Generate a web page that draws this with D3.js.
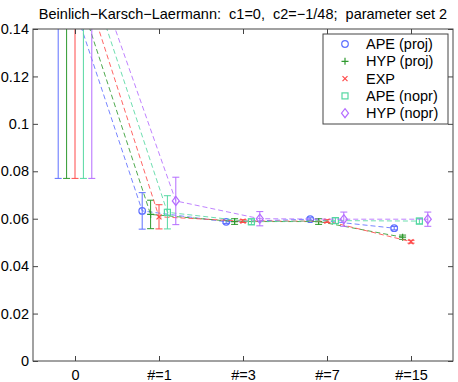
<!DOCTYPE html>
<html>
<head>
<meta charset="utf-8">
<script src="https://cdn.jsdelivr.net/npm/d3@7"></script>
<style>
  body { margin: 0; background: #fff; }
  text { font-family: "Liberation Sans", Arial, Helvetica, sans-serif; }
</style>
</head>
<body>
<div id="chart"></div>
<script>
const tickLabels = ['0', '#=1', '#=3', '#=7', '#=15']
const yTicks = [0, 0.02, 0.04, 0.06, 0.08, 0.1, 0.12, 0.14]

const seriesNames = ['APE (proj)', 'HYP (proj)', 'EXP', 'APE (nopr)', 'HYP (nopr)']
const seriesColors = ['#5f70ff', '#2f9a2f', '#ff4a4a', '#55d8a2', '#b46cff']
const seriesMarkers = ['circle', 'plus', 'cross', 'square', 'diamond']

const apeProj = [0.170, 0.0633, 0.0587, 0.0598, 0.0560]
const apeProjErr = [0.093, 0.0077, 0.0007, 0.0006, 0.0007]
const hypProj = [0.170, 0.0618, 0.0588, 0.0588, 0.0522]
const hypProjErr = [0.093, 0.0060, 0.0012, 0.0012, 0.0009]
const expVals = [0.171, 0.0608, 0.0590, 0.0590, 0.0503]
const expErr = [0.094, 0.0051, 0.0006, 0.0006, 0.0006]
const apeNopr = [0.170, 0.0627, 0.0587, 0.0592, 0.0590]
const apeNoprErr = [0.093, 0.0070, 0.0012, 0.0012, 0.0012]
const hypNopr = [0.168, 0.0675, 0.0600, 0.0598, 0.0598]
const hypNoprErr = [0.091, 0.0100, 0.0030, 0.0030, 0.0030]

const allValues = [apeProj, hypProj, expVals, apeNopr, hypNopr]
const allErrors = [apeProjErr, hypProjErr, expErr, apeNoprErr, hypNoprErr]
const offsets = [-0.2, -0.1, 0, 0.1, 0.2]

const width = 458
const height = 382
const margin = {top: 29, right: 5, bottom: 21, left: 33}
const chartWidth = width - margin.left - margin.right
const chartHeight = height - margin.top - margin.bottom
const fontSize = '14.5px'

const svg = d3.select('#chart')
    .append('svg')
    .attr('width', width)
    .attr('height', height)

const xScale = d3.scaleLinear().domain([-0.5, 4.5]).range([0, chartWidth])
const yScale = d3.scaleLinear().domain([0, 0.14]).range([chartHeight, 0])

const g = svg.append('g')
    .attr('transform', `translate(${margin.left},${margin.top})`)

g.append('clipPath')
    .attr('id', 'plotclip')
    .append('rect')
    .attr('width', chartWidth)
    .attr('height', chartHeight)

const plot = g.append('g').attr('clip-path', 'url(#plotclip)')

function drawMarker(sel, type, color) {
    if (type === 'circle') {
        sel.append('circle').attr('r', 3.3)
            .style('fill', 'none').style('stroke', color).style('stroke-width', 1.2)
    } else if (type === 'plus') {
        sel.append('path').attr('d', 'M-3.5,0H3.5M0,-3.5V3.5')
            .style('stroke', color).style('stroke-width', 1.2)
    } else if (type === 'cross') {
        sel.append('path').attr('d', 'M-2.5,-2.5L2.5,2.5M-2.5,2.5L2.5,-2.5')
            .style('stroke', color).style('stroke-width', 1.2)
    } else if (type === 'square') {
        sel.append('rect').attr('x', -3).attr('y', -3).attr('width', 6).attr('height', 6)
            .style('fill', 'none').style('stroke', color).style('stroke-width', 1.2)
    } else {
        sel.append('path').attr('d', 'M0,-4.5L3.5,0L0,4.5L-3.5,0Z')
            .style('fill', 'none').style('stroke', color).style('stroke-width', 1.2)
    }
}

// series: dashed connecting lines, error bars, markers
allValues.forEach((vals, s) => {
    const color = seriesColors[s]
    const data = vals.map((v, i) => ({x: i + offsets[s], y: v, e: allErrors[s][i]}))

    const line = d3.line()
        .x(d => xScale(d.x))
        .y(d => yScale(d.y))

    plot.append('path')
        .datum(data)
        .attr('d', line)
        .style('fill', 'none')
        .style('stroke', color)
        .style('stroke-width', 1)
        .style('stroke-dasharray', '5,3')
        .style('opacity', 0.85)

    const bars = plot.append('g').selectAll('g')
        .data(data)
        .join('g')
        .attr('transform', d => `translate(${xScale(d.x)},0)`)

    bars.append('line')
        .attr('y1', d => yScale(d.y - d.e))
        .attr('y2', d => yScale(d.y + d.e))
        .style('stroke', color)
    bars.append('line')
        .attr('x1', -3.5).attr('x2', 3.5)
        .attr('y1', d => yScale(d.y - d.e))
        .attr('y2', d => yScale(d.y - d.e))
        .style('stroke', color)
    bars.append('line')
        .attr('x1', -3.5).attr('x2', 3.5)
        .attr('y1', d => yScale(d.y + d.e))
        .attr('y2', d => yScale(d.y + d.e))
        .style('stroke', color)

    data.forEach(d => {
        const m = plot.append('g')
            .attr('transform', `translate(${xScale(d.x)},${yScale(d.y)})`)
        drawMarker(m, seriesMarkers[s], color)
    })
})

// axes with inward ticks, box
const xAxis = d3.axisBottom(xScale)
    .tickValues([0, 1, 2, 3, 4])
    .tickFormat(i => tickLabels[i])
    .tickSizeInner(-5).tickSizeOuter(0).tickPadding(9)
const yAxis = d3.axisLeft(yScale)
    .tickValues(yTicks)
    .tickFormat(d3.format('~g'))
    .tickSizeInner(-5).tickSizeOuter(0).tickPadding(4)

g.append('g')
    .attr('transform', `translate(0,${chartHeight})`)
    .call(xAxis)
g.append('g').call(yAxis)

g.append('g').call(d3.axisTop(xScale).tickValues([0, 1, 2, 3, 4]).tickFormat('')
    .tickSizeInner(-5).tickSizeOuter(0))
g.append('g').attr('transform', `translate(${chartWidth},0)`)
    .call(d3.axisRight(yScale).tickValues(yTicks).tickFormat('')
    .tickSizeInner(-5).tickSizeOuter(0))

g.selectAll('.domain').remove()
g.selectAll('.tick line').style('stroke', '#444')
g.selectAll('.tick text').style('font-size', fontSize).style('fill', '#000')

g.append('rect')
    .attr('width', chartWidth)
    .attr('height', chartHeight)
    .style('fill', 'none')
    .style('stroke', '#444')
    .style('stroke-width', 1)

// title
svg.append('text')
    .attr('x', 243)
    .attr('y', 19)
    .attr('text-anchor', 'middle')
    .attr('xml:space', 'preserve')
    .style('font-size', fontSize)
    .style('white-space', 'pre')
    .text('Beinlich\u2212Karsch\u2212Laermann:  c1=0,  c2=\u22121/48;  parameter set 2')

// legend
const legend = svg.append('g').attr('transform', 'translate(323,34)')
legend.append('rect')
    .attr('width', 125)
    .attr('height', 90)
    .style('fill', '#fff')
    .style('stroke', '#444')

seriesNames.forEach((name, s) => {
    const row = legend.append('g').attr('transform', `translate(0,${10 + s * 17.3})`)
    const m = row.append('g').attr('transform', 'translate(22,0)')
    drawMarker(m, seriesMarkers[s], seriesColors[s])
    row.append('text')
        .attr('x', 43)
        .attr('dy', '0.35em')
        .style('font-size', fontSize)
        .text(name)
})
</script>
</body>
</html>
